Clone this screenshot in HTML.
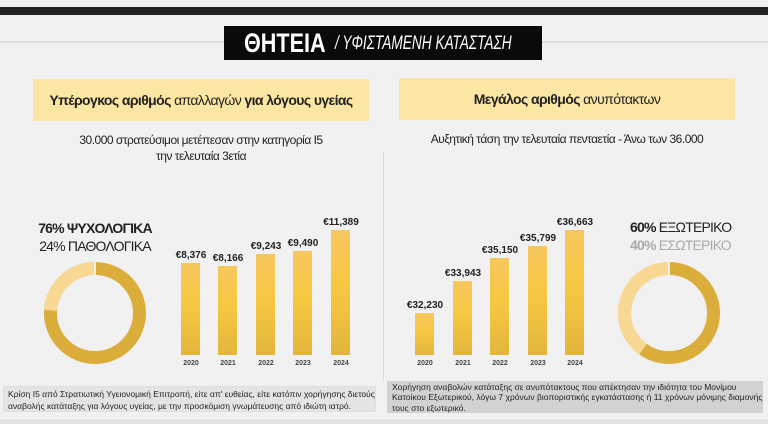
<!DOCTYPE html>
<html><head><meta charset="utf-8"><style>
body{margin:0;width:768px;height:424px;background:#f1f1f1;position:relative;overflow:hidden;font-family:"Liberation Sans Narrow","Liberation Sans","DejaVu Sans",sans-serif;color:#222}
.a{position:absolute}
.bar{position:absolute;width:19px;background:linear-gradient(#f6c75e,#f6c842 45%,#e2b63b);bottom:69px}
.v{position:absolute;width:50px;text-align:center;font:bold 10px "Liberation Sans",sans-serif;color:#222}
.y{position:absolute;width:40px;text-align:center;font:bold 7px "Liberation Sans",sans-serif;color:#444;top:360px}
</style></head><body>
<div class="a" style="left:0;top:7px;width:768px;height:8px;background:#232323"></div>
<div class="a" style="left:0;top:41px;width:768px;height:2px;background:#dcdcdc"></div>
<div class="a" style="left:224px;top:26px;width:318px;height:34px;background:#0a0a0a;color:#fff;white-space:nowrap">
<span class="a" style="left:20px;top:2px;font:bold 27px 'Liberation Sans',sans-serif;transform:scaleX(.8);transform-origin:left">ΘΗΤΕΙΑ</span>
<span class="a" style="left:111px;top:7px;font:italic 19px 'Liberation Sans',sans-serif;transform:scaleX(.72);transform-origin:left">/ ΥΦΙΣΤΑΜΕΝΗ ΚΑΤΑΣΤΑΣΗ</span></div>
<div class="a" style="left:33px;top:79px;width:336px;height:42px;background:#fbe6a3;text-align:center;line-height:42px;font-size:14px;letter-spacing:-.6px"><b>Υπέρογκος αριθμός</b> απαλλαγών <b>για λόγους υγείας</b></div>
<div class="a" style="left:399px;top:78px;width:336px;height:42px;background:#fbe6a3;text-align:center;line-height:42px;font-size:14px;letter-spacing:-.6px"><b>Μεγάλος αριθμός</b> ανυπότακτων</div>
<div class="a" style="left:33px;top:132px;width:336px;text-align:center;font-size:12px;line-height:16px;letter-spacing:-.5px">30.000 στρατεύσιμοι μετέπεσαν στην κατηγορία Ι5<br>την τελευταία 3ετία</div>
<div class="a" style="left:399px;top:132px;width:336px;text-align:center;font-size:12px;letter-spacing:-.5px">Αυξητική τάση την τελευταία πενταετία - Άνω των 36.000</div>
<div class="a" style="left:383px;top:152px;width:1px;height:228px;background:#d8d8d8"></div>

<div class="a" style="left:20px;top:219px;width:150px;text-align:center;font-size:14px;letter-spacing:-.8px;line-height:18px"><b>76% ΨΥΧΟΛΟΓΙΚΑ</b><br>24% ΠΑΘΟΛΟΓΙΚΑ</div>
<svg class="a" style="left:44px;top:262px" width="102" height="102"><g transform="rotate(-90 51 51)"><circle cx="51" cy="51" r="44.5" fill="none" stroke="#dbad3b" stroke-width="13"/><circle cx="51" cy="51" r="44.5" fill="none" stroke="#f8d893" stroke-width="13" stroke-dasharray="67.1 300" transform="scale(1,-1) translate(0,-102)"/></g><line x1="51" y1="0" x2="51" y2="13" stroke="#fff" stroke-width="1.5"/></svg>

<div class="bar" style="left:181px;top:263px"></div><div class="v" style="left:166px;top:250px">€8,376</div><div class="y" style="left:171px">2020</div>
<div class="bar" style="left:218px;top:266px"></div><div class="v" style="left:203px;top:253px">€8,166</div><div class="y" style="left:208px">2021</div>
<div class="bar" style="left:256px;top:254px"></div><div class="v" style="left:241px;top:241px">€9,243</div><div class="y" style="left:246px">2022</div>
<div class="bar" style="left:293px;top:251px"></div><div class="v" style="left:278px;top:238px">€9,490</div><div class="y" style="left:283px">2023</div>
<div class="bar" style="left:331px;top:230px"></div><div class="v" style="left:316px;top:217px">€11,389</div><div class="y" style="left:321px">2024</div>

<div class="bar" style="left:415px;top:313px"></div><div class="v" style="left:400px;top:300px">€32,230</div><div class="y" style="left:405px">2020</div>
<div class="bar" style="left:453px;top:281px"></div><div class="v" style="left:438px;top:268px">€33,943</div><div class="y" style="left:443px">2021</div>
<div class="bar" style="left:490px;top:258px"></div><div class="v" style="left:475px;top:245px">€35,150</div><div class="y" style="left:480px">2022</div>
<div class="bar" style="left:528px;top:246px"></div><div class="v" style="left:513px;top:233px">€35,799</div><div class="y" style="left:518px">2023</div>
<div class="bar" style="left:565px;top:230px"></div><div class="v" style="left:550px;top:217px">€36,663</div><div class="y" style="left:555px">2024</div>

<div class="a" style="left:630px;top:218px;font-size:14px;letter-spacing:-.8px;line-height:18px;white-space:nowrap"><b>60%</b> ΕΞΩΤΕΡΙΚΟ<br><span style="color:#aaa"><b>40%</b> ΕΣΩΤΕΡΙΚΟ</span></div>
<svg class="a" style="left:618px;top:262px" width="102" height="102"><g transform="rotate(-90 51 51)"><circle cx="51" cy="51" r="44.5" fill="none" stroke="#dbad3b" stroke-width="13"/><circle cx="51" cy="51" r="44.5" fill="none" stroke="#f8d893" stroke-width="13" stroke-dasharray="111.8 300" transform="scale(1,-1) translate(0,-102)"/></g><line x1="51" y1="0" x2="51" y2="13" stroke="#fff" stroke-width="1.5"/></svg>

<div class="a" style="left:3px;top:386px;width:373px;height:26px;background:#e4e4e4;border:1px solid #d4e0ea;font:8.5px/12px 'Liberation Sans',sans-serif;padding:1px 0 0 4px;box-sizing:border-box;color:#222">Κρίση Ι5 από Στρατιωτική Υγειονομική Επιτροπή, είτε απ' ευθείας, είτε κατόπιν χορήγησης διετούς αναβολής κατάταξης για λόγους υγείας, με την προσκόμιση γνωμάτευσης από ιδιώτη ιατρό.</div>
<div class="a" style="left:387px;top:381px;width:376px;height:32px;background:#d2d2d2;font:8.5px/10.3px 'Liberation Sans',sans-serif;padding:1px 0 0 5px;box-sizing:border-box;color:#222">Χορήγηση αναβολών κατάταξης σε ανυπότακτους που απέκτησαν την ιδιότητα του Μονίμου Κατοίκου Εξωτερικού, λόγω 7 χρόνων βιοποριστικής εγκατάστασης ή 11 χρόνων μόνιμης διαμονής τους στο εξωτερικό.</div>
<div class="a" style="left:0;top:419px;width:768px;height:5px;background:#e2e2e2"></div>
</body></html>
